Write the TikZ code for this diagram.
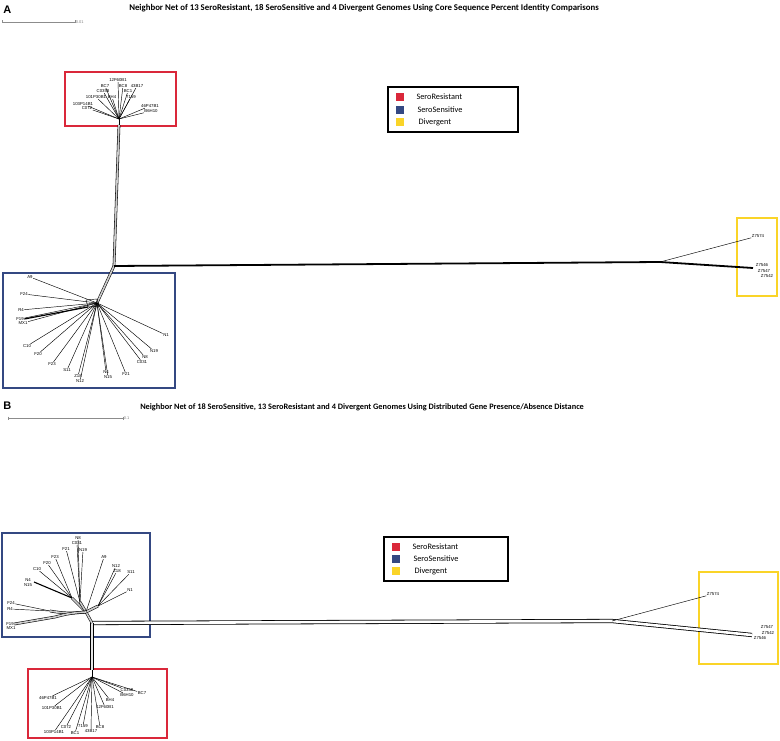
\documentclass[tikz,border=0pt]{standalone}
\usepackage{fontspec}
\setmainfont{Carlito}
\newfontfamily\leaffont{Liberation Sans}
\usetikzlibrary{positioning}

\definecolor{resred}{RGB}{218,40,58}
\definecolor{sensblue}{RGB}{52,72,130}
\definecolor{divyellow}{RGB}{250,212,40}

\begin{document}
\begin{tikzpicture}[x=1pt, y=-1pt, line width=0.5pt,
  leaf/.style={font=\leaffont\fontsize{4.3}{5}\selectfont, inner sep=0.4pt},
  branch/.style={line width=0.45pt},
  splitline/.style={double=black!20, double distance=1.6pt, line width=0.55pt},
  groupbox/.style={line width=1.3pt},
  legkey/.style={minimum size=8pt, inner sep=0pt},
  legtext/.style={font=\fontsize{8.3}{9}\selectfont, anchor=west, inner sep=0pt},
  paneltitle/.style={font=\bfseries\fontsize{8.8}{10}\selectfont, anchor=west, inner sep=0pt},
  panelletter/.style={font=\leaffont\bfseries\fontsize{11}{12}\selectfont, anchor=west, inner sep=0pt},
  scalelabel/.style={font=\leaffont\fontsize{4}{5}\selectfont, text=black!50, inner sep=0.5pt, anchor=west}]

  \useasboundingbox (0,0) rectangle (780,741);

  % -- panel A: core sequence identity ------------------------------------
  \node[panelletter] (lblA) at (3,10) {A};
  \node[paneltitle] (titleA) at (129,8) {Neighbor Net of 13 SeroResistant, 18 SeroSensitive and 4 Divergent Genomes Using Core Sequence Percent Identity Comparisons};
  \coordinate (sbA0) at (2,22);
  \coordinate (sbA1) at (75,22);
  \draw[black!45] (sbA0) -- (sbA1);
  \draw[black!45] ([yshift=1.5pt]sbA0) -- ([yshift=-1.5pt]sbA0);
  \draw[black!45] ([yshift=1.5pt]sbA1) -- ([yshift=-1.5pt]sbA1);
  \node[scalelabel] (sbAtxt) at (sbA1) {0.01};

  % group boxes
  \draw[resred, groupbox] (65,72) rectangle (176,126);
  \draw[sensblue, groupbox] (3,273) rectangle (175,388);
  \draw[divyellow, groupbox] (737,218) rectangle (777,296);

  % legend
  \draw[line width=1.2pt] (388,87) rectangle (518,132);
  \node[legkey, fill=resred] (kAres) at (400,97) {};
  \node[legkey, fill=sensblue] (kAsen) at (400,110) {};
  \node[legkey, fill=divyellow] (kAdiv) at (400,122) {};
  \node[legtext, right=12pt of kAres] (tAres) {SeroResistant};
  \node[legtext, right=13pt of kAsen] (tAsen) {SeroSensitive};
  \node[legtext, right=14pt of kAdiv] (tAdiv) {Divergent};

  % network
  \coordinate (ahubres) at (119,119);
  \coordinate (astemres) at (119,125);
  \coordinate (ajoin) at (114,266);
  \coordinate (ahubsen) at (97,303);
  \coordinate (asplitdiv) at (660,262);
  \coordinate (aenddiv) at (753,268);

  \draw[splitline] (astemres) -- (ajoin);
  \draw[splitline] (ajoin) -- (ahubsen);
  \draw[line width=1.8pt] (ajoin) -- (asplitdiv) -- (aenddiv);
  \draw[line width=1pt] (ahubres) -- (astemres);

  \foreach \nm/\x/\y in {12F60B1/118/80, BC7/105/86, BC8/123/86, 43B17/137/86,
      C0358/103/91, BC1/128/91, 101P30B1/96/97, BH4/112/97, 7159/131/97,
      103P14B1/83/104, 46P47B1/150/106, C072/87/108, B6H10/151/111} {
    \node[leaf] (a\nm) at (\x,\y) {\nm};
    \draw[branch] (ahubres) -- (a\nm);
  }

  \draw[branch] (86,300) -- (97,299) -- (99,306) -- (88,307) -- cycle;
  \foreach \nm/\x/\y in {A9/30/277, F24/24/294, R4/21/310, F19/20/319, MX1/23/323,
      N1/166/335, C10/27/346, N19/154/351, N8/145/357, F20/38/354, C031/142/362,
      F23/52/364, S11/67/370, N4/106/372, F21/126/374, Z18/78/376, N15/108/377,
      N12/80/381} {
    \node[leaf] (a\nm) at (\x,\y) {\nm};
    \draw[branch] (ahubsen) -- (a\nm);
  }
  \draw[line width=1.2pt] (aF19.east) -- (88,307);

  \foreach \nm/\x/\y in {Z7546/762/265, Z7547/764/271, Z7542/767/276} {
    \node[leaf] (a\nm) at (\x,\y) {\nm};
  }
  \node[leaf] (aZ7574) at (758,236) {Z7574};
  \draw[branch] (asplitdiv) -- (aZ7574);

  % -- panel B: gene presence / absence -----------------------------------
  \node[panelletter] (lblB) at (3,406) {B};
  \node[paneltitle, font=\bfseries\fontsize{8.3}{10}\selectfont] (titleB) at (140,407) {Neighbor Net of 18 SeroSensitive, 13 SeroResistant and 4 Divergent Genomes Using Distributed Gene Presence/Absence Distance};
  \coordinate (sbB0) at (8,418);
  \coordinate (sbB1) at (123,418);
  \draw[black!45] (sbB0) -- (sbB1);
  \draw[black!45] ([yshift=1.5pt]sbB0) -- ([yshift=-1.5pt]sbB0);
  \draw[black!45] ([yshift=1.5pt]sbB1) -- ([yshift=-1.5pt]sbB1);
  \node[scalelabel] (sbBtxt) at (sbB1) {0.1};

  % group boxes
  \draw[sensblue, groupbox] (2,533) rectangle (150,637);
  \draw[resred, groupbox] (28,669) rectangle (167,738);
  \draw[divyellow, groupbox] (699,572) rectangle (778,664);

  % legend
  \draw[line width=1.2pt] (384,537) rectangle (508,581);
  \node[legkey, fill=resred] (kBres) at (396,547) {};
  \node[legkey, fill=sensblue] (kBsen) at (396,559) {};
  \node[legkey, fill=divyellow] (kBdiv) at (396,571) {};
  \node[legtext, right=12pt of kBres] (tBres) {SeroResistant};
  \node[legtext, right=13pt of kBsen] (tBsen) {SeroSensitive};
  \node[legtext, right=14pt of kBdiv] (tBdiv) {Divergent};

  % network
  \coordinate (bjoin) at (92,623);
  \coordinate (bhubsen) at (86,612);
  \coordinate (bsubleft) at (72,598);
  \coordinate (bsubtop) at (80,602);
  \coordinate (bsubright) at (98,606);
  \coordinate (bsubfar) at (50,611);
  \coordinate (bstemres) at (92,670);
  \coordinate (bhubres) at (92,677);
  \coordinate (bsplitdiv) at (612,621);
  \coordinate (benddiv) at (752,635);

  \draw[splitline, double=white, double distance=2.6pt, line width=0.8pt] (bjoin) -- (bsplitdiv) -- (benddiv);
  \draw[splitline, double=black!10, double distance=2.2pt, line width=0.8pt] (bjoin) -- (bstemres);
  \draw[line width=1pt] (bstemres) -- (bhubres);
  \draw[splitline] (bjoin) -- (bhubsen);
  \draw[splitline] (bhubsen) -- (bsubleft);
  \draw[splitline] (bhubsen) -- (bsubtop);
  \draw[splitline] (bhubsen) -- (bsubright);
  \draw[splitline] (bhubsen) to[bend left=8] (bsubfar);

  \foreach \nm/\x/\y in {F23/55/557, F20/47/563, C10/37/569} {
    \node[leaf] (b\nm) at (\x,\y) {\nm};
    \draw[branch] (bsubleft) -- (b\nm);
  }
  \node[leaf] (bN4) at (28,580) {N4};
  \node[leaf] (bN15) at (28,585) {N15};
  \draw[line width=1.1pt] (bsubleft) -- (34,582);
  \foreach \nm/\x/\y in {F21/66/549, N8/78/538, C031/77/543, N19/83/550} {
    \node[leaf] (b\nm) at (\x,\y) {\nm};
    \draw[branch] (bsubtop) -- (b\nm);
  }
  \node[leaf] (bA9) at (104,557) {A9};
  \draw[branch] (bhubsen) -- (bA9);
  \foreach \nm/\x/\y in {N12/116/566, Z18/117/571, S11/131/572, N1/130/590} {
    \node[leaf] (b\nm) at (\x,\y) {\nm};
    \draw[branch] (bsubright) -- (b\nm);
  }
  \foreach \nm/\x/\y in {F24/11/603, R4/10/609} {
    \node[leaf] (b\nm) at (\x,\y) {\nm};
    \draw[branch] (bsubfar) -- (b\nm);
  }
  \node[leaf] (bF19) at (10,624) {F19};
  \node[leaf] (bMX1) at (11,628) {MX1};
  \draw[splitline] (bhubsen) to[bend right=6] (55,617) -- (bF19.east);

  \foreach \nm/\x/\y in {C0358/127/690, BC7/142/693, B6H10/127/695, 46P47B1/48/698,
      BH4/110/700, 12F60B1/105/707, 101P30B1/52/708, C072/66/727, 7159/83/726,
      BC8/100/727, 43B17/91/731, 103P14B1/54/732, BC1/75/733} {
    \node[leaf] (b\nm) at (\x,\y) {\nm};
    \draw[branch] (bhubres) -- (b\nm);
  }

  \foreach \nm/\x/\y in {Z7547/767/627, Z7542/768/633, Z7546/760/638} {
    \node[leaf] (b\nm) at (\x,\y) {\nm};
  }
  \node[leaf] (bZ7574) at (713,594) {Z7574};
  \draw[branch] (bsplitdiv) -- (bZ7574);

\end{tikzpicture}
\end{document}
